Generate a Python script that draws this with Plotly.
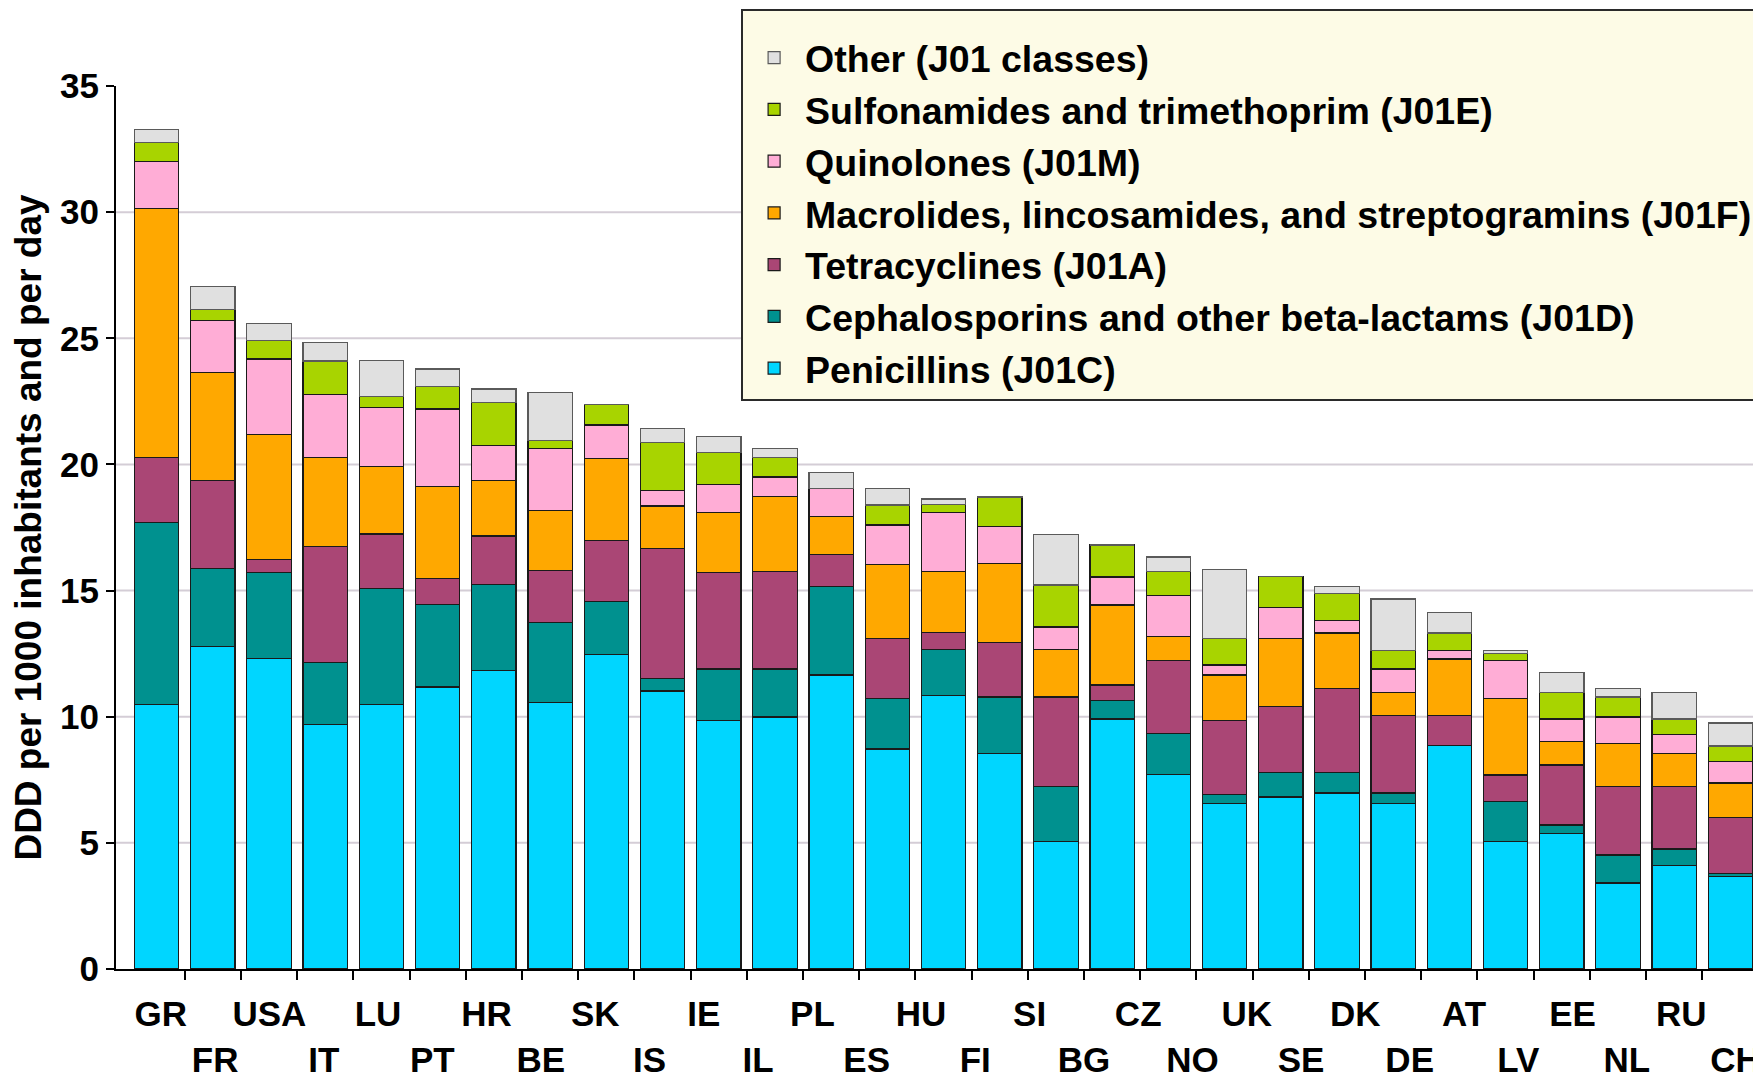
import plotly.graph_objects as go

countries = ["GR", "FR", "USA", "IT", "LU", "PT", "HR", "BE", "SK", "IS",
             "IE", "IL", "PL", "ES", "HU", "FI", "SI", "BG", "CZ", "NO",
             "UK", "SE", "DK", "DE", "AT", "LV", "EE", "NL", "RU", "CH"]

# DDD per 1000 inhabitants and per day (CH bar lies outside the visible frame)
penicillins = [10.48, 12.79, 12.31, 9.69, 10.48, 11.18, 11.84, 10.57, 12.46, 11.02,
               9.84, 9.99, 11.65, 8.72, 10.85, 8.55, 5.06, 9.91, 7.70, 6.56,
               6.82, 6.98, 6.56, 8.86, 5.06, 5.36, 3.41, 4.11, 3.68, None]
cephalosporins = [7.22, 3.10, 3.41, 2.47, 4.61, 3.26, 3.41, 3.17, 2.12, 0.50,
                  2.05, 1.90, 3.50, 1.99, 1.83, 2.23, 2.16, 0.73, 1.64, 0.35,
                  0.96, 0.80, 0.42, 0.00, 1.59, 0.35, 1.11, 0.65, 0.11, None]
tetracyclines = [2.59, 3.48, 0.51, 4.59, 2.15, 1.04, 1.91, 2.06, 2.39, 5.16,
                 3.83, 3.88, 1.29, 2.38, 0.65, 2.17, 3.56, 0.62, 2.88, 2.93,
                 2.61, 3.33, 3.06, 1.18, 1.04, 2.38, 2.70, 2.46, 2.23, None]
macrolides = [9.84, 4.27, 4.96, 3.54, 2.67, 3.65, 2.21, 2.37, 3.27, 1.67,
              2.38, 2.96, 1.49, 2.93, 2.44, 3.11, 1.90, 3.17, 0.96, 1.81,
              2.70, 2.21, 0.91, 2.25, 3.02, 0.92, 1.73, 1.33, 1.35, None]
quinolones = [1.89, 2.05, 2.99, 2.48, 2.36, 3.07, 1.39, 2.45, 1.32, 0.62,
              1.11, 0.77, 1.11, 1.58, 2.31, 1.49, 0.88, 1.11, 1.64, 0.40,
              1.25, 0.48, 0.94, 0.32, 1.51, 0.90, 1.04, 0.74, 0.84, None]
sulfonamides = [0.73, 0.46, 0.72, 1.33, 0.42, 0.88, 1.68, 0.32, 0.80, 1.90,
                1.25, 0.79, 0.00, 0.79, 0.33, 1.13, 1.66, 1.27, 0.95, 1.04,
                1.22, 1.09, 0.72, 0.71, 0.29, 1.04, 0.79, 0.62, 0.63, None]
other = [0.54, 0.90, 0.70, 0.74, 1.42, 0.70, 0.55, 1.91, 0.00, 0.55,
         0.64, 0.33, 0.63, 0.67, 0.22, 0.05, 1.99, 0.00, 0.56, 2.76,
         0.00, 0.26, 2.06, 0.80, 0.10, 0.79, 0.33, 1.04, 0.91, None]

series = [
    ("Penicillins (J01C)", penicillins, "#00D6FF", "#1a1a1a"),
    ("Cephalosporins and other beta-lactams (J01D)", cephalosporins, "#00918F", "#1a1a1a"),
    ("Tetracyclines (J01A)", tetracyclines, "#AA4675", "#1a1a1a"),
    ("Macrolides, lincosamides, and streptogramins (J01F)", macrolides, "#FFA800", "#1a1a1a"),
    ("Quinolones (J01M)", quinolones, "#FFADD6", "#1a1a1a"),
    ("Sulfonamides and trimethoprim (J01E)", sulfonamides, "#A8D400", "#1a1a1a"),
    ("Other (J01 classes)", other, "#E0E0E0", "#5a5a5a"),
]

y_ticks = [0, 5, 10, 15, 20, 25, 30, 35]

FONT = "Liberation Sans, Arial, sans-serif"
positions = list(range(len(countries)))

fig = go.Figure()
for name, vals, color, line in series:
    fig.add_trace(go.Bar(
        x=positions, y=vals, name=name,
        marker=dict(color=color, line=dict(color=line, width=1.2)),
    ))

# invisible helper trace carrying the country label axis
fig.add_trace(go.Scatter(x=positions, y=[None] * len(positions), xaxis="x2",
                         showlegend=False, hoverinfo="skip", mode="markers"))

ticktext = [c if i % 2 == 0 else "<br>" + c for i, c in enumerate(countries)]

for g in y_ticks[1:-1]:
    fig.add_shape(type="line", xref="paper", x0=0, x1=1, yref="y", y0=g, y1=g,
                  line=dict(color="#D4CDD6", width=2), layer="below")

fig.update_layout(
    width=1753, height=1070,
    margin=dict(l=108, r=0, t=78, b=109, autoexpand=False),
    paper_bgcolor="white", plot_bgcolor="white",
    barmode="stack", bargap=0.21,
    font=dict(family=FONT, color="black", size=35, weight="bold"),
    xaxis=dict(
        type="linear", range=[-0.724, 28.546],
        showticklabels=False,
        tickmode="array", tickvals=[i + 0.5 for i in positions[:-1]],
        ticks="outside", ticklen=9, tickwidth=2, tickcolor="black",
        showline=True, linewidth=2, linecolor="black",
        showgrid=False, zeroline=False,
    ),
    xaxis2=dict(
        overlaying="x", anchor="y", side="bottom",
        type="linear", range=[-0.825, 29.47],
        tickmode="array", tickvals=positions, ticktext=ticktext,
        tickangle=0,
        ticks="", showline=False, showgrid=False, zeroline=False,
        tickfont=dict(family=FONT, size=35, color="black", weight="bold"),
        ticklabelstandoff=21,
    ),
    yaxis=dict(
        range=[0, 35], tickmode="array", tickvals=y_ticks,
        ticks="outside", ticklen=8, tickwidth=2, tickcolor="black",
        showline=True, linewidth=2, linecolor="black",
        showgrid=False, zeroline=False,
        tickfont=dict(family=FONT, size=35, color="black", weight="bold"),
        ticklabelstandoff=0,
        title=dict(text="DDD per 1000 inhabitants and per day",
                   font=dict(family=FONT, size=37, color="black", weight="bold"),
                   standoff=12),
    ),
    legend=dict(
        x=0.38, y=1.087, xanchor="left", yanchor="top",
        traceorder="reversed",
        bgcolor="#FDFBE6", bordercolor="#2a2a2a", borderwidth=2,
        font=dict(family=FONT, size=37.5, color="black", weight="bold"),
        itemwidth=52,
        title=dict(text="&nbsp;", font=dict(size=12)),
    ),
    showlegend=True,
)

fig.write_html("out.html")
